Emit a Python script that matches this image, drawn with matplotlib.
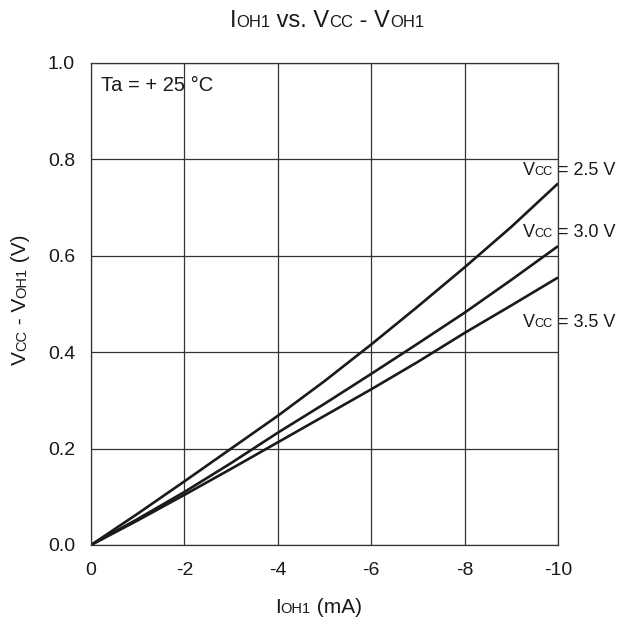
"""Recreate the I_OH1 vs. Vcc - V_OH1 characteristic chart.

Creates:
- out.png
"""

import matplotlib

matplotlib.use("Agg")
import matplotlib.pyplot as plt

plt.rcParams["font.family"] = ["Liberation Sans", "DejaVu Sans"]
plt.rcParams["axes.unicode_minus"] = False

# Data
I_OH1 = [0, -1, -2, -3, -4, -5, -6, -7, -8, -9, -10]  # mA
VCC_25 = [0, 0.065, 0.132, 0.200, 0.268, 0.340, 0.416, 0.495, 0.576, 0.660, 0.750]
VCC_30 = [0, 0.054, 0.110, 0.170, 0.233, 0.293, 0.355, 0.418, 0.482, 0.550, 0.620]
VCC_35 = [0, 0.051, 0.104, 0.158, 0.213, 0.268, 0.323, 0.380, 0.440, 0.497, 0.555]

X_TICKS = [0, -2, -4, -6, -8, -10]
X_TICK_LABELS = ["0", "-2", "-4", "-6", "-8", "-10"]
Y_TICKS = [0.0, 0.2, 0.4, 0.6, 0.8, 1.0]
Y_TICK_LABELS = ["0.0", "0.2", "0.4", "0.6", "0.8", "1.0"]

# curve label text and where its baseline sits (data coords)
CURVE_LABELS = [
    ("2.5", VCC_25, 0.768),
    ("3.0", VCC_30, 0.640),
    ("3.5", VCC_35, 0.453),
]

LINE_COLOR = "#1a1a1a"
GRID_COLOR = "#333333"


def rich_text(fig, x, y, pieces, rotation=0, align="center"):
    """Draw mixed-size text pieces on one baseline (x, y in figure fraction)."""
    renderer = fig.canvas.get_renderer()
    texts = []
    lengths = []
    for s, size in pieces:
        t = fig.text(0, 0, s, fontsize=size, rotation=rotation,
                     rotation_mode="anchor", ha="left", va="baseline",
                     color="#1a1a1a")
        bb = t.get_window_extent(renderer)
        texts.append(t)
        lengths.append(bb.width if rotation == 0 else bb.height)
    total = sum(lengths)
    W, H = fig.bbox.width, fig.bbox.height
    pos = -total / 2 if align == "center" else 0
    for t, length in zip(texts, lengths):
        if rotation == 0:
            t.set_position((x + pos / W, y))
        else:
            t.set_position((x, y + pos / H))
        pos += length


fig = plt.figure(figsize=(6.19, 6.26), dpi=100)
ax = fig.add_axes([0.147, 0.1294, 0.7545, 0.77])

for vals in (VCC_25, VCC_30, VCC_35):
    ax.plot(I_OH1, vals, color=LINE_COLOR, linewidth=1.9, solid_capstyle="butt")

ax.set_xlim(0, -10)
ax.set_ylim(0, 1.0)
ax.set_xticks(X_TICKS)
ax.set_xticklabels(X_TICK_LABELS)
ax.set_yticks(Y_TICKS)
ax.set_yticklabels(Y_TICK_LABELS)
ax.tick_params(axis="x", length=0, pad=12, labelsize=14, labelcolor="#1a1a1a")
ax.tick_params(axis="y", length=0, pad=11.5, labelsize=14, labelcolor="#1a1a1a")
ax.grid(True, color=GRID_COLOR, linewidth=0.9)
ax.set_axisbelow(True)
for spine in ax.spines.values():
    spine.set_color(GRID_COLOR)
    spine.set_linewidth(0.9)

ax.text(-0.21, 0.942, "Ta = + 25 °C", fontsize=14.5, color="#1a1a1a",
        ha="left", va="baseline")

# mixed-size labels
fig.canvas.draw()
to_fig = fig.transFigure.inverted()
for volt, vals, ybase in CURVE_LABELS:
    fx, fy = to_fig.transform(ax.transData.transform((-9.24, ybase)))
    rich_text(fig, fx, fy, [("V", 13), ("CC", 9.2), (f" = {volt} V", 13)],
              align="left")

rich_text(fig, 0.528, 0.957,
          [("I", 17), ("OH1", 12), (" vs. V", 17), ("CC", 12),
           (" - V", 17), ("OH1", 12)])
rich_text(fig, 0.514, 0.0203, [("I", 15), ("OH1", 10.5), (" (mA)", 15)])
rich_text(fig, 0.042, 0.521,
          [("V", 15), ("CC", 10.5), (" - V", 15), ("OH1", 10.5), (" (V)", 15)],
          rotation=90)

fig.savefig("out.png", dpi=100)
